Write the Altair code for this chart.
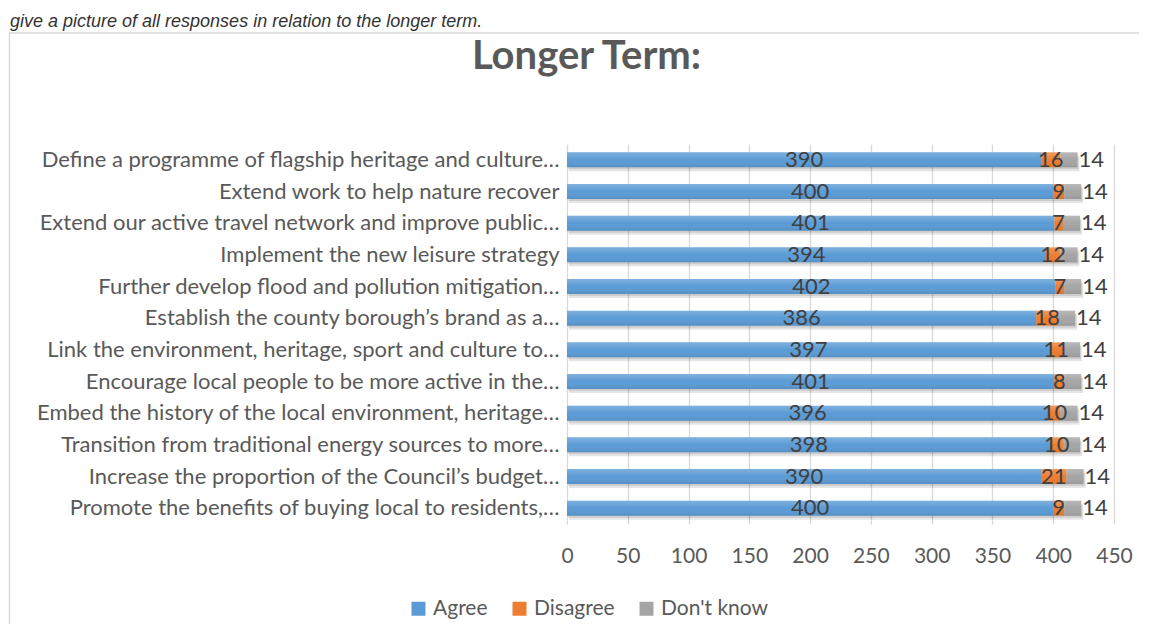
import altair as alt
import pandas as pd

NB = "\u00a0"
categories = [
    "Define a programme of flagship heritage and culture…",
    "Extend work to help nature recover" + NB * 3,
    "Extend our active travel network and improve public…",
    "Implement the new leisure strategy" + NB * 3,
    "Further develop flood and pollution mitigation…",
    "Establish the county borough’s brand as a…",
    "Link the environment, heritage, sport and culture to…",
    "Encourage local people to be more active in the…",
    "Embed the history of the local environment, heritage…",
    "Transition from traditional energy sources to more…",
    "Increase the proportion of the Council’s budget…",
    "Promote the benefits of buying local to residents,…",
]
agree = [390, 400, 401, 394, 402, 386, 397, 401, 396, 398, 390, 400]
disagree = [16, 9, 7, 12, 7, 18, 11, 8, 10, 10, 21, 9]
dont_know = [14, 14, 14, 14, 14, 14, 14, 14, 14, 14, 14, 14]
series = ["Agree", "Disagree", "Don't know"]
colors = ["#5B9BD5", "#ED7D31", "#A5A5A5"]
x_ticks = [0, 50, 100, 150, 200, 250, 300, 350, 400, 450]
title_text = "Longer Term:"
intro_text = "give a picture of all responses in relation to the longer term."

rows = []
tot_rows = []
for i, c in enumerate(categories):
    start = 0
    for s, vals in zip(series, [agree, disagree, dont_know]):
        v = vals[i]
        rows.append(dict(category=c, series=s, value=v, start=start, end=start + v, mid=start + v / 2))
        start += v
    tot_rows.append(dict(category=c, total=start))
df = pd.DataFrame(rows)
tot = pd.DataFrame(tot_rows)

FONT = "Lato"
ysc = alt.Y("category:N", sort=categories, scale=alt.Scale(paddingInner=0, paddingOuter=0),
            axis=alt.Axis(title=None, labelFont=FONT, labelFontSize=22, labelColor="#595959",
                          domain=False, ticks=False, grid=False, labelPadding=8, labelLimit=1000))
xsc = alt.Scale(domain=[0, 450], nice=False, zero=True)

base = alt.Chart(df)

shadow1 = alt.Chart(tot).mark_bar(size=15, color="#000000", opacity=0.10, yOffset=4, xOffset=2).encode(
    x=alt.X("total:Q", scale=xsc,
            axis=alt.Axis(title=None, values=x_ticks, labelFont=FONT, labelFontSize=21,
                          labelColor="#595959", domain=False, ticks=False, grid=True,
                          labelFlush=False, labelOverlap=False,
                          gridColor="#D9D9D9", gridWidth=1.3, labelPadding=21)),
    y=ysc,
)
shadow2 = alt.Chart(tot).mark_bar(size=15, color="#000000", opacity=0.10, yOffset=2, xOffset=1).encode(
    x=alt.X("total:Q", scale=xsc), y=ysc)

bars = base.mark_bar(size=15).encode(
    x=alt.X("start:Q", scale=xsc),
    x2="end:Q",
    y=ysc,
    color=alt.Color("series:N", scale=alt.Scale(domain=series, range=colors),
                    legend=alt.Legend(title=None, orient="none", legendX=-159, legendY=454,
                                      direction="horizontal", symbolType="square", symbolSize=196,
                                      symbolStrokeWidth=0, labelFont=FONT, labelFontSize=21,
                                      labelColor="#595959", labelOffset=4, columnPadding=21,
                                      padding=0)),
)

sheen = alt.Chart(tot).mark_bar(
    size=15,
    color=alt.LinearGradient(
        gradient="linear", x1=0, x2=0, y1=0, y2=1,
        stops=[alt.GradientStop(offset=0, color="rgba(255,255,255,0.22)"),
               alt.GradientStop(offset=0.5, color="rgba(255,255,255,0.0)"),
               alt.GradientStop(offset=1, color="rgba(0,0,0,0.08)")]),
).encode(x=alt.X("total:Q", scale=xsc), y=ysc)

labels_mid = base.transform_filter(alt.datum.series != "Don't know").mark_text(
    font=FONT, fontSize=22, color="#404040", baseline="middle", align="center").encode(
    x=alt.X("mid:Q", scale=xsc), y=ysc, text="value:Q")

labels_end = base.transform_filter(alt.datum.series == "Don't know").mark_text(
    font=FONT, fontSize=22, color="#404040", baseline="middle", align="left", dx=1).encode(
    x=alt.X("end:Q", scale=xsc), y=ysc, text="value:Q")

title_mark = alt.Chart(pd.DataFrame({"t": [title_text]})).mark_text(
    font=FONT, fontSize=40, fontWeight="bold", color="#595959", align="center",
    baseline="alphabetic").encode(x=alt.value(19.5), y=alt.value(-74.7), text="t:N")

intro_mark = alt.Chart(pd.DataFrame({"t": [intro_text]})).mark_text(
    font="Liberation Sans", fontSize=18, fontStyle="italic", color="#333333", align="left",
    baseline="alphabetic").encode(x=alt.value(-557), y=alt.value(-117), text="t:N")

frame = alt.Chart(pd.DataFrame({"t": [0]})).mark_rect(
    fillOpacity=0, stroke="#D9D9D9", strokeWidth=1.5).encode(
    x=alt.value(-557.5), x2=alt.value(700), y=alt.value(-111), y2=alt.value(700))

chart = alt.layer(shadow1, shadow2, bars, sheen, labels_mid, labels_end, title_mark, intro_mark, frame).properties(
    width=547, height=380,
    padding={"left": 559, "top": 136, "right": 25, "bottom": 100},
    autosize=alt.AutoSizeParams(type="none"),
    background="white",
).configure_view(stroke=None)

chart.save("out.html", embed_options={"renderer": "svg", "actions": False})
